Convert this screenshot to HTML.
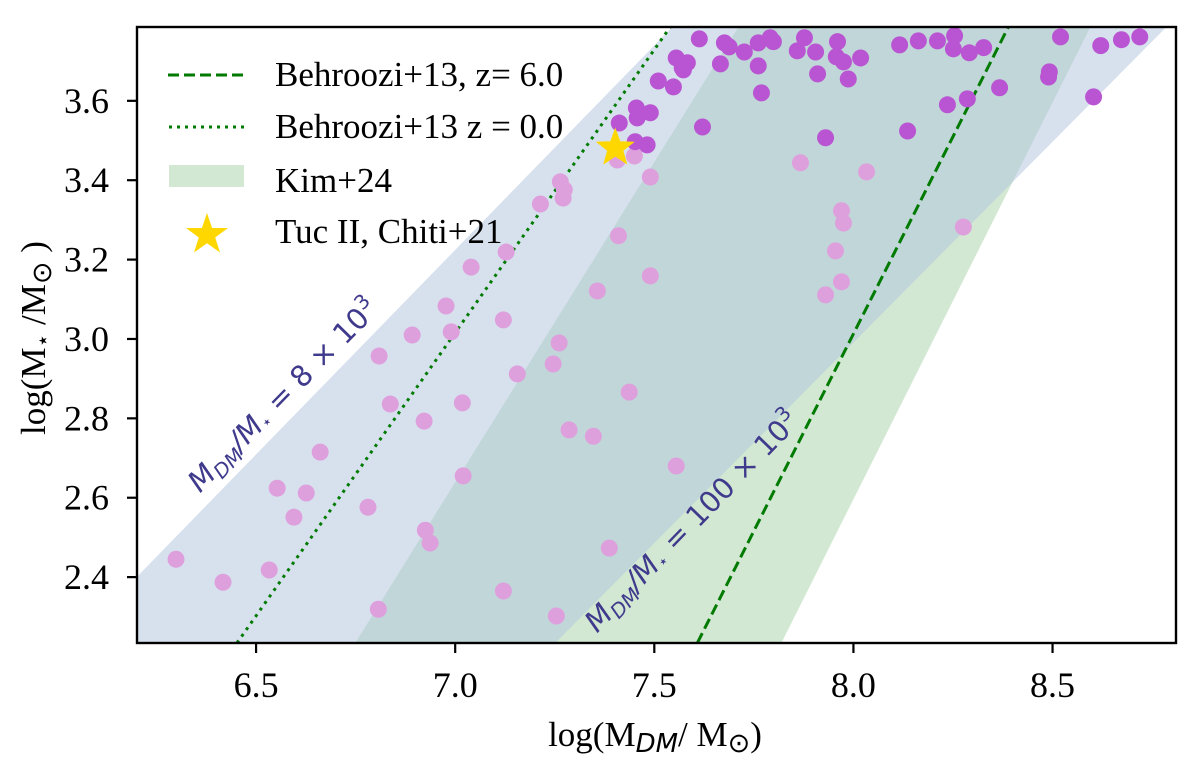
<!DOCTYPE html>
<html><head><meta charset="utf-8"><style>
html,body{margin:0;padding:0;background:#fff;}
svg{display:block;}
.tk{font-family:"Liberation Serif",serif;font-size:36px;fill:#000;}
.lg{font-family:"Liberation Serif",serif;font-size:35px;fill:#000;}
.rl{font-family:"DejaVu Sans","Liberation Sans",sans-serif;font-size:29px;fill:#3f3a8c;}
</style></head><body>
<svg id="chart" width="1200" height="767" xmlns="http://www.w3.org/2000/svg">
<g id="bands"></g>
<g id="lines"></g>
<g id="points"></g>
<g id="axes"></g>
<text class="rl" transform="translate(290,402) rotate(-45.5)" text-anchor="middle"><tspan font-style="italic">M<tspan font-size="20" dy="6">DM</tspan><tspan dy="-6">/M</tspan></tspan><tspan font-size="17" dy="3">⋆</tspan><tspan dy="-3"> = 8 × 10</tspan><tspan font-size="20" dy="-12">3</tspan></text>
<text class="rl" transform="translate(699,528) rotate(-46)" text-anchor="middle"><tspan font-style="italic">M<tspan font-size="20" dy="6">DM</tspan><tspan dy="-6">/M</tspan></tspan><tspan font-size="17" dy="3">⋆</tspan><tspan dy="-3"> = 100 × 10</tspan><tspan font-size="20" dy="-12">3</tspan></text>
<g>
<line x1="168" y1="75" x2="244" y2="75" stroke="#007a00" stroke-width="3" stroke-dasharray="11,5"/>
<text class="lg" x="275" y="86">Behroozi+13, z= 6.0</text>
<line x1="169" y1="127" x2="244" y2="127" stroke="#007a00" stroke-width="3" stroke-dasharray="3,5"/>
<text class="lg" x="275" y="138">Behroozi+13 z = 0.0</text>
<rect x="169" y="165" width="75" height="22" fill="#d2e8d3"/>
<text class="lg" x="275" y="192">Kim+24</text>
<polygon fill="#ffd700" points="207,213 212.1,228 228,228 215.2,237.5 220,252.5 207,243.3 194,252.5 198.8,237.5 186,228 201.9,228"/>
<text class="lg" x="275" y="243">Tuc II, Chiti+21</text>
</g>
<text class="lg" x="655" y="746" text-anchor="middle" font-size="41">log(M<tspan font-style="italic" font-family="DejaVu Sans,sans-serif" font-size="26" dy="6">DM</tspan><tspan dy="-6">/ M</tspan><tspan font-size="27" dy="6">⊙</tspan><tspan dy="-6">)</tspan></text>
<text class="lg" transform="translate(45,338) rotate(-90)" text-anchor="middle" font-size="41">log(M<tspan font-size="22" dy="5">⋆</tspan><tspan dy="-5"> /M</tspan><tspan font-size="27" dy="6">⊙</tspan><tspan dy="-6"> )</tspan></text>
</svg>
<script>
const xTicks=[6.5,7.0,7.5,8.0,8.5];
const xTickLabels=["6.5","7.0","7.5","8.0","8.5"];
const yTicks=[2.4,2.6,2.8,3.0,3.2,3.4,3.6];
const yTickLabels=["2.4","2.6","2.8","3.0","3.2","3.4","3.6"];
const xDomain=[6.201,8.81];
const yDomain=[2.234,3.786];
const blueBandX=[6.2,6.2,7.545,8.786,7.251];
const blueBandY=[2.234,2.4,3.786,3.786,2.234];
const kimBandX=[6.749,7.711,8.595,7.819];
const kimBandY=[2.234,3.786,3.786,2.234];
const z0LineX=[6.452,7.540];
const z0LineY=[2.234,3.786];
const z6LineX=[7.608,8.389];
const z6LineY=[2.234,3.786];
const brightX=[7.555,7.570,7.510,7.548,7.455,7.490,7.457,7.412,7.452,7.482,7.613,7.676,7.688,7.726,7.761,7.791,7.799,7.877,7.859,7.905,7.960,7.957,7.975,8.018,7.910,7.987,7.583,7.573,7.666,7.761,7.769,8.116,8.163,8.211,8.254,8.251,8.291,8.327,8.520,8.621,8.673,8.719,8.492,8.490,8.367,8.236,8.286,8.603,7.621,8.136,7.930];
const brightY=[3.708,3.683,3.650,3.635,3.582,3.570,3.557,3.544,3.497,3.489,3.756,3.746,3.736,3.723,3.746,3.759,3.749,3.759,3.726,3.723,3.749,3.711,3.698,3.708,3.668,3.655,3.696,3.678,3.693,3.688,3.620,3.741,3.751,3.751,3.764,3.731,3.721,3.734,3.761,3.739,3.754,3.761,3.673,3.660,3.633,3.590,3.605,3.610,3.534,3.524,3.507];
const faintX=[7.450,7.407,7.490,7.264,7.274,7.271,7.214,7.410,7.128,7.040,7.490,7.357,6.977,7.121,6.892,6.990,7.261,6.809,7.246,7.156,6.837,7.018,6.922,7.437,6.661,7.286,7.347,7.555,7.020,6.553,6.626,6.781,6.595,6.925,6.937,6.299,7.387,6.533,6.417,7.121,6.807,7.254,7.867,8.033,7.970,7.975,8.276,7.955,7.970,7.930];
const faintY=[3.461,3.451,3.408,3.396,3.376,3.355,3.340,3.260,3.219,3.181,3.159,3.121,3.083,3.048,3.010,3.018,2.990,2.957,2.937,2.912,2.836,2.839,2.793,2.866,2.715,2.771,2.755,2.680,2.655,2.624,2.612,2.576,2.551,2.518,2.486,2.445,2.473,2.418,2.387,2.365,2.319,2.302,3.444,3.421,3.323,3.292,3.282,3.222,3.144,3.111];
const starX=[7.402];
const starY=[3.481];

const L=137,R=1176,T=27,B=643;
const NS="http://www.w3.org/2000/svg";
function sx(v){return L+(v-xDomain[0])/(xDomain[1]-xDomain[0])*(R-L);}
function sy(v){return B-(v-yDomain[0])/(yDomain[1]-yDomain[0])*(B-T);}
function mk(tag,attrs,parent){const e=document.createElementNS(NS,tag);for(const k in attrs)e.setAttribute(k,attrs[k]);parent.appendChild(e);return e;}
const svg=document.getElementById('chart');
const defs=mk('defs',{},svg);
const cp=mk('clipPath',{id:'clip'},defs);
mk('rect',{x:L,y:T,width:R-L,height:B-T},cp);
const bands=document.getElementById('bands');bands.setAttribute('clip-path','url(#clip)');
const kim=mk('polygon',{points:kimBandX.map((x,i)=>sx(x)+','+sy(kimBandY[i])).join(' '),fill:'#d2e8d3'},bands);


const blue=mk('polygon',{points:blueBandX.map((x,i)=>sx(x)+','+sy(blueBandY[i])).join(' '),fill:'rgb(176,196,222)','fill-opacity':'0.5'},bands);


const lines=document.getElementById('lines');lines.setAttribute('clip-path','url(#clip)');
const l0=mk('line',{x1:sx(z0LineX[0]),y1:sy(z0LineY[0]),x2:sx(z0LineX[1]),y2:sy(z0LineY[1]),stroke:'#007a00','stroke-width':3,'stroke-dasharray':'3,5'},lines);


const l6=mk('line',{x1:sx(z6LineX[0]),y1:sy(z6LineY[0]),x2:sx(z6LineX[1]),y2:sy(z6LineY[1]),stroke:'#007a00','stroke-width':3,'stroke-dasharray':'11,5'},lines);


const pts=document.getElementById('points');
faintX.forEach((x,i)=>{const c=mk('circle',{cx:sx(x),cy:sy(faintY[i]),r:8.5,fill:'#dea0dc'},pts);

});
brightX.forEach((x,i)=>{const c=mk('circle',{cx:sx(x),cy:sy(brightY[i]),r:8.5,fill:'#b955d2'},pts);

});
starX.forEach((x,i)=>{const cx=sx(x),cy=sy(starY[i]);let p=[];for(let k=0;k<10;k++){const r=k%2?8.5:20.5;const a=-Math.PI/2+k*Math.PI/5;p.push((cx+r*Math.cos(a)).toFixed(1)+','+(cy+r*Math.sin(a)).toFixed(1));}
const s=mk('polygon',{points:p.join(' '),fill:'#ffd700'},pts);

});
const ax=document.getElementById('axes');
const fr=mk('rect',{x:L,y:T,width:R-L,height:B-T,fill:'none',stroke:'#000','stroke-width':2.4},ax);


xTicks.forEach((v,i)=>{const x=sx(v);const t=mk('line',{x1:x,y1:B,x2:x,y2:B+10,stroke:'#000','stroke-width':2.2},ax);


const tx=mk('text',{x:x,y:697,'text-anchor':'middle',class:'tk'},ax);tx.textContent=xTickLabels[i];

});
yTicks.forEach((v,i)=>{const y=sy(v);const t=mk('line',{x1:L-10,y1:y,x2:L,y2:y,stroke:'#000','stroke-width':2.2},ax);


const tx=mk('text',{x:109,y:y+12,'text-anchor':'end',class:'tk'},ax);tx.textContent=yTickLabels[i];

});
</script>
</body></html>
